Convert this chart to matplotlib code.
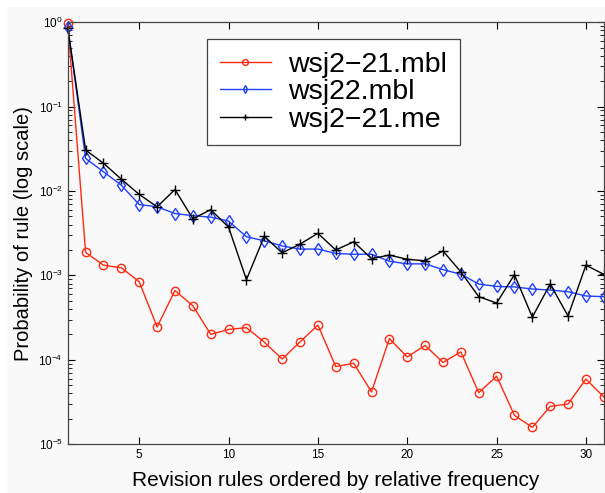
import numpy as np
import matplotlib
matplotlib.use('Agg')
import matplotlib.pyplot as plt
from matplotlib.patches import Rectangle
from matplotlib.ticker import LogLocator, FixedLocator

plt.rcParams['font.family'] = ['Liberation Sans', 'DejaVu Sans']
plt.rcParams['mathtext.fontset'] = 'custom'
plt.rcParams['mathtext.rm'] = 'Liberation Sans'
plt.rcParams['mathtext.it'] = 'Liberation Sans'

# номера правил (по убыванию частоты)
ranks = np.arange(1, 32)

mbl_21 = [0.97, 1.87e-3, 1.32e-3, 1.23e-3, 8.4e-4, 2.45e-4, 6.6e-4, 4.37e-4, 2.0e-4, 2.29e-4,
          2.4e-4, 1.62e-4, 1.02e-4, 1.63e-4, 2.58e-4, 8.3e-5, 9.1e-5, 4.17e-5, 1.78e-4, 1.08e-4,
          1.48e-4, 9.3e-5, 1.24e-4, 4.07e-5, 6.4e-5, 2.2e-5, 1.58e-5, 2.8e-5, 3.0e-5, 5.9e-5,
          3.63e-5]
mbl_22 = [0.88, 2.43e-2, 1.69e-2, 1.17e-2, 6.9e-3, 6.5e-3, 5.4e-3, 5.1e-3, 4.9e-3, 4.4e-3,
          2.87e-3, 2.57e-3, 2.23e-3, 2.05e-3, 2.05e-3, 1.82e-3, 1.78e-3, 1.78e-3, 1.47e-3, 1.37e-3,
          1.37e-3, 1.17e-3, 1.03e-3, 7.9e-4, 7.4e-4, 7.3e-4, 6.9e-4, 6.7e-4, 6.4e-4, 5.7e-4,
          5.6e-4]
me_21 = [0.86, 3.05e-2, 2.13e-2, 1.38e-2, 9.1e-3, 6.5e-3, 1.04e-2, 4.7e-3, 6.0e-3, 3.73e-3,
         8.9e-4, 2.9e-3, 1.85e-3, 2.35e-3, 3.15e-3, 2.0e-3, 2.5e-3, 1.58e-3, 1.74e-3, 1.55e-3,
         1.49e-3, 1.95e-3, 1.10e-3, 5.6e-4, 4.7e-4, 1.02e-3, 3.2e-4, 7.9e-4, 3.3e-4, 1.32e-3,
         1.03e-3]

labels = ['wsj2\u221221.mbl', 'wsj22.mbl', 'wsj2\u221221.me']

fig = plt.figure(figsize=(6.05, 4.93), dpi=100, facecolor='white')
# светло-серая подложка, как в оригинале (узкая белая полоса слева и сверху)
fig.patches.append(Rectangle((7 / 605, 0), 1, 1 - 7 / 493, transform=fig.transFigure,
                             facecolor='#f9f9f9', edgecolor='none', zorder=-10))

ax = fig.add_axes([0.112, 0.099, 0.886, 0.856])
ax.set_facecolor('#f9f9f9')

ax.plot(ranks, mbl_21, color='#ff2a10', marker='o', markersize=6, markerfacecolor='none',
        linewidth=1.0, label=labels[0], clip_on=False)
ax.plot(ranks, mbl_22, color='#1f3fff', marker='d', markersize=6, markerfacecolor='none',
        linewidth=1.0, label=labels[1], clip_on=False)
ax.plot(ranks, me_21, color='black', marker='+', markersize=7,
        linewidth=1.0, label=labels[2], clip_on=False)

ax.set_yscale('log')
ax.set_xlim(1, 31)
ax.set_ylim(1e-5, 1)
ax.xaxis.set_major_locator(FixedLocator([5, 10, 15, 20, 25, 30]))
ax.yaxis.set_major_locator(LogLocator(base=10, numticks=10))
ax.yaxis.set_minor_locator(LogLocator(base=10, subs=np.arange(2, 10), numticks=10))
ax.tick_params(which='both', direction='in', top=True, right=True, labelsize=8.5)
ax.tick_params(which='major', length=5)
ax.tick_params(which='minor', length=3)
for s in ax.spines.values():
    s.set_linewidth(0.9)
    s.set_color('#444444')

ax.set_xlabel('Revision rules ordered by relative frequency', fontsize=15, labelpad=7)
ax.set_ylabel('Probability of rule (log scale)', fontsize=14.5, labelpad=4)

leg = ax.legend(loc='upper left', bbox_to_anchor=(207 / 605, 1 - 39 / 493),
                bbox_transform=fig.transFigure, borderaxespad=0,
                fontsize=20.5, fancybox=False, framealpha=1, edgecolor='#444444',
                facecolor='white', handlelength=1.8, handletextpad=0.6,
                borderpad=0.45, labelspacing=0.05, markerscale=0.7)
leg.get_frame().set_linewidth(0.9)

fig.savefig('out.png', dpi=100, facecolor=fig.get_facecolor())
